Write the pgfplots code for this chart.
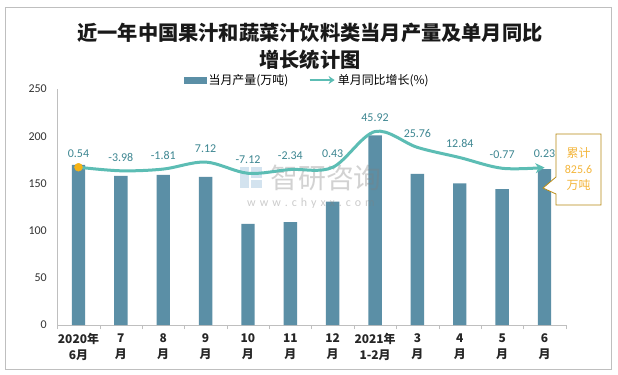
\documentclass[border=0pt]{standalone}
\usepackage{fontspec}
\setmainfont{Carlito}
\newfontfamily\cjk{Noto Sans CJK SC}
\usepackage{pgfplots}
\pgfplotsset{compat=1.18}
\usetikzlibrary{arrows.meta}
\definecolor{barc}{HTML}{5B8FA6}
\definecolor{linec}{HTML}{5CBDB4}
\definecolor{labc}{HTML}{3E8792}
\definecolor{dotc}{HTML}{F5B316}
\definecolor{callt}{HTML}{F4B63C}
\definecolor{callb}{HTML}{B88A12}
\definecolor{framec}{HTML}{BFBFBF}
\definecolor{logoc}{HTML}{C9DCEC}
\begin{document}
\begin{tikzpicture}[x=1bp,y=1bp]
\fill[white] (0,0) rectangle (618,374);
\draw[framec, line width=0.8bp] (5.5,5) rectangle (611,367);
\node[font=\cjk\bfseries\fontsize{20.3}{24}\selectfont, text=black!90] at (310,341) {近一年中国果汁和蔬菜汁饮料类当月产量及单月同比};
\node[font=\cjk\bfseries\fontsize{20.3}{24}\selectfont, text=black!90] at (310,314) {增长统计图};
\begin{axis}[
  at={(57.3bp,49bp)}, anchor=south west, scale only axis,
  width=508.4bp, height=236bp,
  xmin=-0.5, xmax=11.5, ymin=0, ymax=250,
  ybar, bar width=13.4bp,
  axis x line=bottom, axis y line=left,
  axis line style={draw=framec, -},
  xtick={0,...,11},
  xticklabels={{2020年\\6月},{7\\月},{8\\月},{9\\月},{10\\月},{11\\月},{12\\月},{2021年\\1-2月},{3\\月},{4\\月},{5\\月},{6\\月}},
  minor xtick={-0.5,0.5,...,11.5},
  major tick length=0pt, minor tick length=4bp, tick align=outside,
  minor tick style={draw=framec},
  ytick={0,50,...,250},
  /pgf/number format/assume math mode=true,
  yticklabel style={font=\fontsize{12}{14}\selectfont, text=black!80, xshift=-7bp},
  xticklabel style={font=\cjk\bfseries\fontsize{12}{16}\selectfont, align=center, text=black!85, yshift=-5bp},
]
\addplot[fill=barc, draw=none] coordinates {
(0,169.5) (1,158) (2,159) (3,157) (4,107) (5,109) (6,130.6) (7,201) (8,160) (9,150) (10,144) (11,165)};
\end{axis}
% watermark
\fill[logoc, opacity=0.8] (240,186) rectangle (249,207);
\fill[logoc, opacity=0.8] (251,196) rectangle (262,207);
\fill[logoc, opacity=0.8] (251,186) rectangle (262,194);
\node[font=\cjk\fontsize{28}{30}\selectfont, text=gray, opacity=0.35] at (326,196) {智研咨询};
\node[font=\fontsize{12}{14}\selectfont, text=gray, opacity=0.4] at (311,171) {w\,\,w\,\,w\,\,.\,\,c\,\,h\,\,y\,\,x\,\,x\,\,.\,\,c\,\,o\,\,m};
\begin{axis}[
  at={(57.3bp,49bp)}, anchor=south west, scale only axis,
  width=508.4bp, height=236bp,
  xmin=-0.5, xmax=11.5, ymin=-200, ymax=100,
  hide axis, clip=false,
  legend style={at={(0.492,1.038)}, anchor=center, draw=none, fill=none,
    legend columns=2, font=\cjk\fontsize{12}{14}\selectfont,
    /tikz/every even column/.append style={column sep=18bp}},
  legend cell align=left,
]
\addlegendimage{legend image code/.code={\fill[barc] (0bp,-3bp) rectangle (22bp,3bp);}}
\addlegendentry{当月产量(万吨)}
\addplot[linec, line width=3bp, smooth, tension=0.55, -{Stealth[length=9bp,width=10bp]},
  legend image code/.code={\draw[linec, line width=2.5bp, -{Stealth[length=6bp,width=8bp]}] (0bp,0bp) -- (25bp,0bp);}]
 coordinates {(0,0.54) (1,-3.98) (2,-1.81) (3,7.12) (4,-7.12) (5,-2.34) (6,0.43) (7,45.92) (8,25.76) (9,12.84) (10,-0.77) (11,0.23)};
\addlegendentry{单月同比增长(\%)}
\addplot[only marks, mark=*, mark size=4bp, color=dotc, forget plot] coordinates {(0,0.54)};
\addplot[draw=none, forget plot, nodes near coords, point meta=explicit symbolic,
  nodes near coords style={font=\fontsize{12}{14}\selectfont, text=labc, anchor=south, yshift=6bp}]
 coordinates {(0,0.54)[0.54] (1,-3.98)[-3.98] (2,-1.81)[-1.81] (3,7.12)[7.12] (4,-7.12)[-7.12] (5,-2.34)[-2.34] (6,0.43)[0.43] (7,45.92)[45.92] (8,25.76)[25.76] (9,12.84)[12.84] (10,-0.77)[-0.77] (11,0.23)[0.23]};
\end{axis}
% callout
\draw[callb, fill=white, line width=0.8bp] (556,240) -- (601,240) -- (601,169) -- (556,169) -- (556,180) -- (543,186) -- (556,197) -- cycle;
\node[font=\cjk\fontsize{12}{14}\selectfont, text=callt] at (578.5,221) {累计};
\node[font=\fontsize{12}{14}\selectfont, text=callt] at (578.5,205) {825.6};
\node[font=\cjk\fontsize{12}{14}\selectfont, text=callt] at (578.5,189) {万吨};
\end{tikzpicture}
\end{document}
